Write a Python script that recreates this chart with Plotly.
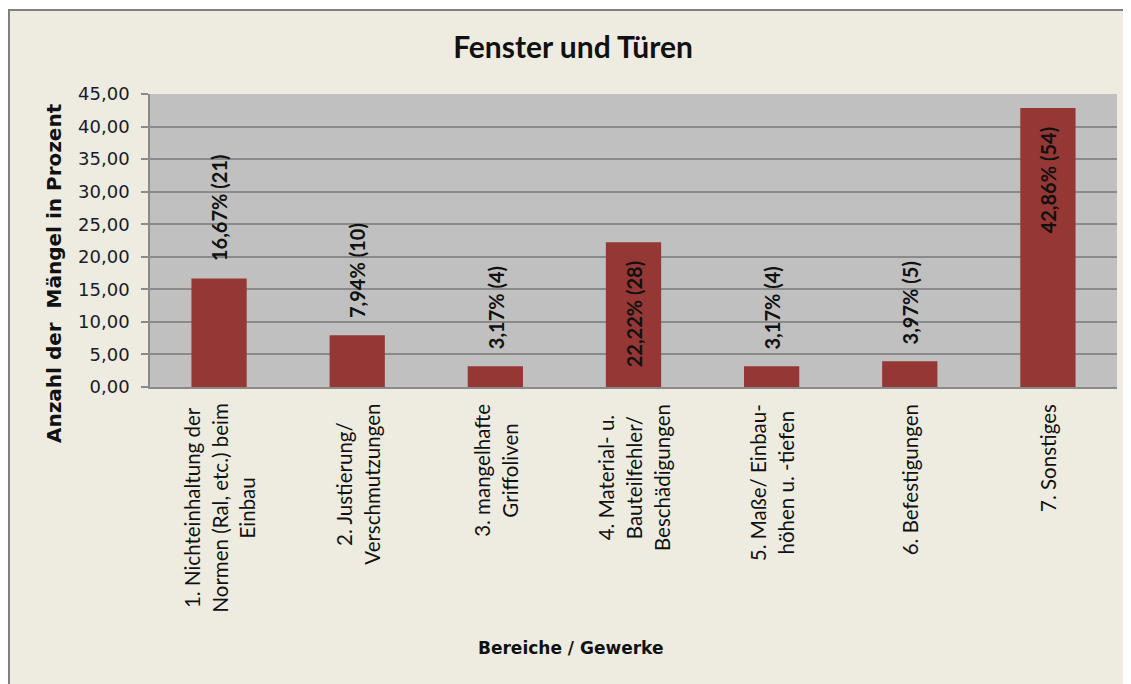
import plotly.graph_objects as go

categories = [
    "1. Nichteinhaltung der<br>Normen (Ral, etc.) beim<br>Einbau",
    "2. Justierung/<br>Verschmutzungen",
    "3. mangelhafte<br>Griffoliven",
    "4. Material- u.<br>Bauteilfehler/<br>Beschädigungen",
    "5. Maße/ Einbau-<br>höhen u. -tiefen",
    "6. Befestigungen",
    "7. Sonstiges",
]
cat_keys = ["c1", "c2", "c3", "c4", "c5", "c6", "c7"]
values = [16.67, 7.94, 3.17, 22.22, 3.17, 3.97, 42.86]
counts = [21, 10, 4, 28, 4, 5, 54]
label_inside = [False, False, False, True, False, False, True]
y_ticks = [0, 5, 10, 15, 20, 25, 30, 35, 40, 45]

BAR = "#953735"
BG = "#EEECE1"

# figure geometry (the page adds an 8px body margin)
W, H = 1123, 676
L, T, R, B = 142, 86, 14, 297
PW, PH = W - L - R, H - T - B

def px(x):
    return (x - L) / PW

def py(y):
    return (H - B - y) / PH

fig = go.Figure()
fig.add_trace(go.Bar(
    x=cat_keys, y=values,
    marker=dict(color=BAR, line=dict(width=0)),
    hoverinfo="skip",
))

ann = []
for k, v, c, ins in zip(cat_keys, values, counts, label_inside):
    txt = f"{v:.2f}".replace(".", ",") + f"% ({c})"
    ann.append(dict(
        x=k, y=v, xref="x", yref="y", text=txt, showarrow=False,
        textangle=-90, font=dict(family="Lato", size=20, color="#111111", weight="bold"),
        yanchor="top" if ins else "bottom",
        yshift=-16 if ins else 15,
    ))

for k, lab in zip(cat_keys, categories):
    parts = lab.split("<br>")
    txt = "<br>".join(f"<span style='font-size:20.5px'>{p}</span>" for p in parts)
    ann.append(dict(
        x=k, y=0, xref="x", yref="paper", text=txt, showarrow=False,
        textangle=-90, align="center", yanchor="top", yshift=-15,
        font=dict(family="Lato", size=21.5, color="#111111"),
    ))

ann.append(dict(
    x=px(562), y=py(640), xref="paper", yref="paper",
    text="<b>Bereiche / Gewerke</b>", showarrow=False,
    font=dict(family="DejaVu Sans", size=17, color="#111111"),
    xanchor="center", yanchor="middle",
))
ann.append(dict(
    x=px(46), y=py(265), xref="paper", yref="paper",
    text="<b>Anzahl der  Mängel in Prozent</b>", showarrow=False, textangle=-90,
    font=dict(family="DejaVu Sans", size=20, color="#111111"),
    xanchor="center", yanchor="middle",
))

shapes = [
    dict(type="rect", xref="paper", yref="paper", layer="below",
         x0=px(1), x1=1.3, y0=-2, y1=py(2),
         fillcolor=BG, line=dict(color="#7f7f7f", width=2)),
    dict(type="rect", xref="paper", yref="paper", layer="below",
         x0=0, x1=1, y0=0, y1=1, fillcolor="#C0C0C0", line=dict(width=0)),
]

fig.update_layout(
    width=W, height=H,
    margin=dict(l=L, r=R, t=T, b=B),
    paper_bgcolor="white",
    plot_bgcolor="rgba(0,0,0,0)",
    separators=",.",
    showlegend=False,
    bargap=0.6,
    title=dict(text="<b>Fenster und Türen</b>", x=565 / W, xref="container",
               y=1 - 39 / H, yref="container", xanchor="center", yanchor="middle",
               font=dict(family="Lato", size=30, color="#111111")),
    annotations=ann,
    shapes=shapes,
)
fig.update_xaxes(
    categoryorder="array", categoryarray=cat_keys,
    showticklabels=False, showgrid=False,
    showline=True, linecolor="#8a8a8a", linewidth=1.5, ticks="",
)
fig.update_yaxes(
    range=[0, 45], tickvals=y_ticks, tickformat=".2f",
    showgrid=True, gridcolor="#8a8a8a", gridwidth=1.5,
    showline=True, linecolor="#8a8a8a", linewidth=1.5,
    ticks="outside", ticklen=7, tickcolor="#8a8a8a", tickwidth=1.5,
    ticklabelstandoff=8,
    tickfont=dict(family="DejaVu Sans", size=18, color="#1a1a2a"),
    zeroline=False,
)

fig.write_html("out.html")
